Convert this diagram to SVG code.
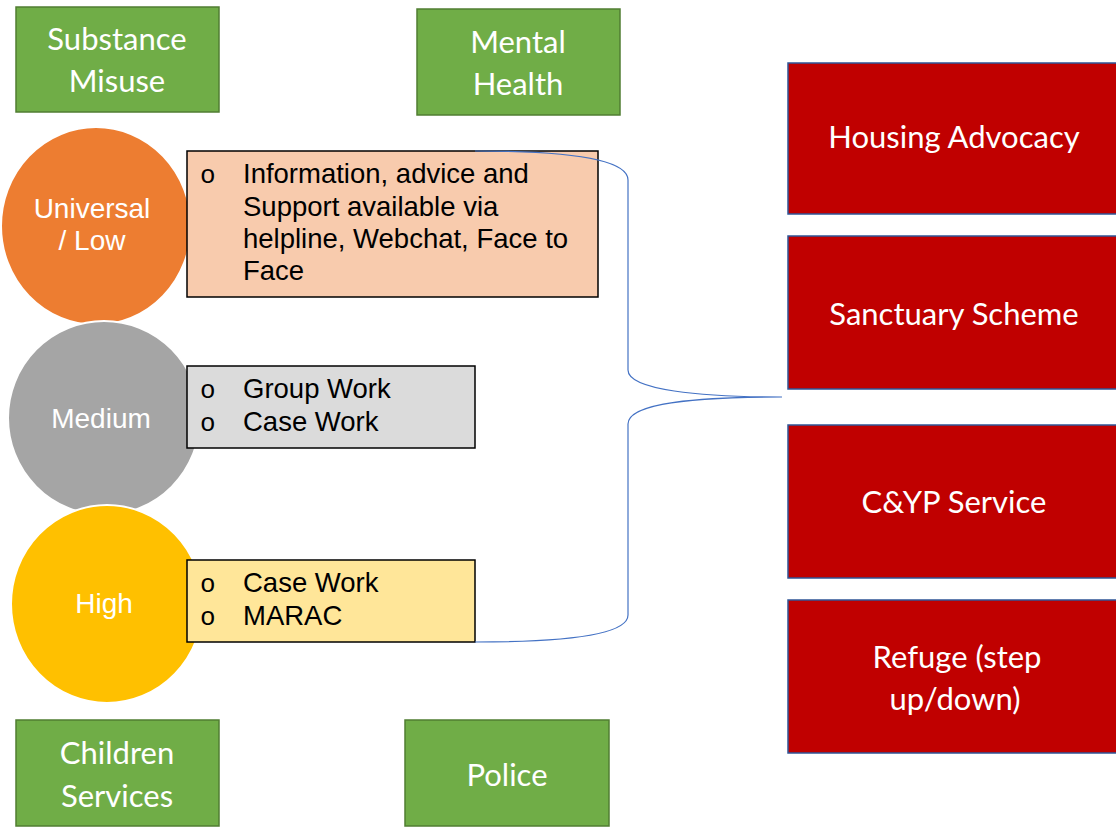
<svg xmlns="http://www.w3.org/2000/svg" width="1116" height="827" viewBox="0 0 1116 827">
  <style>
    .partner { fill: #70AD47; stroke: #507E32; stroke-width: 1.5; }
    .service { fill: #C00000; stroke: #2F5597; stroke-width: 1.5; }
    .level { stroke: #FFFFFF; stroke-width: 2; }
    .detail { stroke: #000000; stroke-width: 1.5; }
    .label { font-family: Lato, "Open Sans", sans-serif; fill: #FFFFFF; text-anchor: middle; }
    .lvl { font-family: "Liberation Sans", Arial, sans-serif; font-size: 28px; fill: #FFFFFF; text-anchor: middle; }
    .item { font-family: "Liberation Sans", Arial, sans-serif; font-size: 27.5px; fill: #000000; }
    .bullet { font-family: "Liberation Mono", "Courier New", monospace; font-size: 26px; fill: #000000; }
    .brace { fill: none; stroke: #4472C4; stroke-width: 1.2; }
  </style>

  <!-- partner agencies (green) -->
  <g id="substance-misuse">
    <rect class="partner" x="16" y="7" width="203" height="105"/>
    <text class="label" font-size="31" x="117" y="50">Substance</text>
    <text class="label" font-size="31" x="117" y="92">Misuse</text>
  </g>
  <g id="mental-health">
    <rect class="partner" x="417" y="9" width="203" height="106"/>
    <text class="label" font-size="31" x="518" y="53">Mental</text>
    <text class="label" font-size="31" x="518" y="95">Health</text>
  </g>
  <g id="children-services">
    <rect class="partner" x="16" y="720" width="203" height="106"/>
    <text class="label" font-size="31" x="117" y="764">Children</text>
    <text class="label" font-size="31" x="117" y="807">Services</text>
  </g>
  <g id="police">
    <rect class="partner" x="405" y="720" width="204" height="106"/>
    <text class="label" font-size="31" x="507" y="786">Police</text>
  </g>

  <!-- risk levels -->
  <g id="universal-low">
    <ellipse class="level" cx="96" cy="226" rx="95" ry="99" fill="#ED7D31"/>
    <text class="lvl" x="92" y="218">Universal</text>
    <text class="lvl" x="92" y="250">/ Low</text>
  </g>
  <g id="medium">
    <ellipse class="level" cx="104" cy="418" rx="96" ry="97" fill="#A5A5A5"/>
    <text class="lvl" x="101" y="428">Medium</text>
  </g>
  <g id="high">
    <ellipse class="level" cx="107" cy="604" rx="96" ry="99" fill="#FFC000"/>
    <text class="lvl" x="104" y="613">High</text>
  </g>

  <!-- support offered at each level -->
  <g id="universal-support">
    <rect class="detail" x="187" y="151" width="411" height="146" fill="#F8CBAD"/>
    <text class="bullet" x="200" y="183">o</text>
    <text class="item" x="243" y="183">Information, advice and</text>
    <text class="item" x="243" y="216">Support available via</text>
    <text class="item" x="243" y="248">helpline, Webchat, Face to</text>
    <text class="item" x="243" y="280">Face</text>
  </g>
  <g id="medium-support">
    <rect class="detail" x="187" y="366" width="288" height="82" fill="#DBDBDB"/>
    <text class="bullet" x="200" y="398">o</text>
    <text class="item" x="243" y="398">Group Work</text>
    <text class="bullet" x="200" y="431">o</text>
    <text class="item" x="243" y="431">Case Work</text>
  </g>
  <g id="high-support">
    <rect class="detail" x="187" y="560" width="288" height="82" fill="#FFE699"/>
    <text class="bullet" x="200" y="592">o</text>
    <text class="item" x="243" y="592">Case Work</text>
    <text class="bullet" x="200" y="625">o</text>
    <text class="item" x="243" y="625">MARAC</text>
  </g>

  <!-- brace joining the levels to the services -->
  <g id="connectors">
    <path class="brace" d="M 475 151 C 560 151, 628 158, 628 180 L 628 370 C 628 390, 700 397, 782 397 C 700 397, 628 402, 628 424 L 628 615 C 628 636, 560 642, 475 642"/>
  </g>

  <!-- specialist services (red) -->
  <g id="housing-advocacy">
    <rect class="service" x="788" y="63" width="334" height="151"/>
    <text class="label" font-size="31" x="954" y="148">Housing Advocacy</text>
  </g>
  <g id="sanctuary-scheme">
    <rect class="service" x="788" y="236" width="334" height="153"/>
    <text class="label" font-size="31" x="954" y="325">Sanctuary Scheme</text>
  </g>
  <g id="cyp-service">
    <rect class="service" x="788" y="425" width="334" height="153"/>
    <text class="label" font-size="31" x="954" y="513">C&amp;YP Service</text>
  </g>
  <g id="refuge">
    <rect class="service" x="788" y="600" width="334" height="153"/>
    <text class="label" font-size="31" x="957" y="668">Refuge (step</text>
    <text class="label" font-size="31" x="955" y="710">up/down)</text>
  </g>
</svg>
